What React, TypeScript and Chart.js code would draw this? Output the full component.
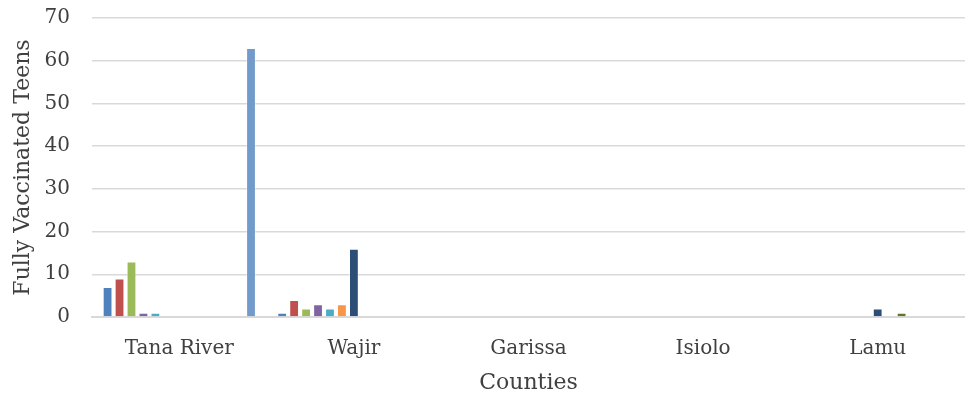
import React, { useEffect, useRef } from "react";
import { Chart, registerables } from "chart.js";

Chart.register(...registerables);

const categories = ["Tana River", "Wajir", "Garissa", "Isiolo", "Lamu"];
const seriesNames = [
  "Series 1", "Series 2", "Series 3", "Series 4", "Series 5", "Series 6", "Series 7",
  "Series 8", "Series 9", "Series 10", "Series 11", "Series 12", "Series 13",
];
const seriesColors = [
  "#4F81BD", "#C0504D", "#9BBB59", "#8064A2", "#4BACC6", "#F79646", "#2C4D75",
  "#772C2A", "#5F7530", "#4D3B62", "#276A7C", "#B65708", "#729ACA",
];
const s1 = [7, 1, 0, 0, 0];
const s2 = [9, 4, 0, 0, 0];
const s3 = [13, 2, 0, 0, 0];
const s4 = [1, 3, 0, 0, 0];
const s5 = [1, 2, 0, 0, 0];
const s6 = [0, 3, 0, 0, 0];
const s7 = [0, 16, 0, 0, 2];
const s8 = [0, 0, 0, 0, 0];
const s9 = [0, 0, 0, 0, 1];
const s10 = [0, 0, 0, 0, 0];
const s11 = [0, 0, 0, 0, 0];
const s12 = [0, 0, 0, 0, 0];
const s13 = [63, 0, 0, 0, 0];
const seriesValues = [s1, s2, s3, s4, s5, s6, s7, s8, s9, s10, s11, s12, s13];
const yTicks = [0, 10, 20, 30, 40, 50, 60, 70];

const FONT = "'DejaVu Serif', serif";

export default function App() {
  const ref = useRef<HTMLCanvasElement | null>(null);
  useEffect(() => {
    document.body.style.margin = "0";
    if (!ref.current) return;
    const chart = new Chart(ref.current, {
      type: "bar",
      data: {
        labels: categories,
        datasets: seriesValues.map((vals, i) => ({
          label: seriesNames[i],
          data: vals,
          backgroundColor: seriesColors[i],
          borderColor: "rgba(255,255,255,0.35)",
          borderWidth: 1,
          barPercentage: 0.82,
          categoryPercentage: 0.89,
        })),
      },
      options: {
        animation: false,
        responsive: false,
        maintainAspectRatio: false,
        layout: { padding: { top: 18, right: 0, left: 0, bottom: 0 } },
        plugins: { legend: { display: false }, tooltip: { enabled: false } },
        scales: {
          x: {
            grid: { display: false, drawTicks: false },
            border: { display: true, color: "#d9d9d9", width: 2 },
            ticks: { color: "#404040", font: { family: FONT, size: 20 }, padding: 20 },
            title: { display: true, text: "Counties", color: "#404040", font: { family: FONT, size: 22 }, padding: { top: 8 } },
            afterFit: (s: any) => { s.height = 83; s.paddingLeft = 0; s.paddingRight = 0; },
          },
          y: {
            min: 0,
            max: 70,
            afterBuildTicks: (s: any) => { s.ticks = yTicks.map((v) => ({ value: v })); },
            grid: { color: "#d9d9d9", lineWidth: 1.5, drawTicks: false },
            border: { display: false },
            ticks: { color: "#404040", font: { family: FONT, size: 20 }, padding: 22 },
            title: { display: true, text: "Fully Vaccinated Teens", color: "#404040", font: { family: FONT, size: 22 }, padding: { top: 10, bottom: 0 } },
            afterFit: (s: any) => { s.width = 92; s.paddingTop = 0; s.paddingBottom = 0; },
          },
        },
      },
    });
    return () => chart.destroy();
  }, []);
  return <canvas ref={ref} width={965} height={400} style={{ display: "block" }} />;
}
